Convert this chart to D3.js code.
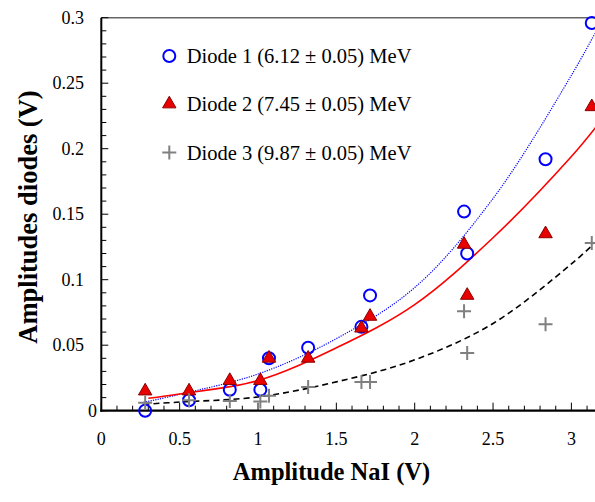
<!DOCTYPE html>
<html><head><meta charset="utf-8">
<script src="https://cdn.jsdelivr.net/npm/d3@7"></script>
<style>
html,body{margin:0;padding:0;background:#fff;}
svg{display:block;font-family:"Liberation Serif","Times New Roman",serif;}
</style></head>
<body><svg id="c" width="595" height="502"></svg>
<script>
// ---- data ----
const naiAmplitude = [0.28, 0.56, 0.82, 1.015, 1.07, 1.32, 1.66, 1.715, 2.315, 2.335, 2.835, 3.13];
const diode1 = [0.000, 0.008, 0.016, 0.016, 0.040, 0.048, 0.064, 0.088, 0.152, 0.120, 0.192, 0.296];
const diode2 = [0.015, 0.015, 0.023, 0.023, 0.040, 0.040, 0.063, 0.072, 0.127, 0.088, 0.135, 0.232];
const diode3 = [0.006, 0.008, 0.0075, 0.007, 0.0115, 0.018, 0.022, 0.022, 0.076, 0.044, 0.066, 0.128];
// trend curves
const fitX1 = [0.27, 0.5, 1.0, 1.5, 2.0, 2.5, 3.0, 3.15];
const fit1 = [0.0064, 0.0125, 0.028, 0.055, 0.094, 0.162, 0.256, 0.288];
const fitX2 = [0.3, 0.5, 1.0, 1.5, 2.0, 2.5, 3.0, 3.16];
const fit2 = [0.0095, 0.0128, 0.023, 0.048, 0.081, 0.132, 0.194, 0.217];
const fitX3 = [0.27, 0.5, 1.0, 1.5, 2.0, 2.5, 3.0, 3.14];
const fit3 = [0.0049, 0.0066, 0.0105, 0.022, 0.0388, 0.0666, 0.112, 0.127];
const legendLabels = ["Diode 1 (6.12 \u00b1 0.05) MeV", "Diode 2 (7.45 \u00b1 0.05) MeV", "Diode 3 (9.87 \u00b1 0.05) MeV"];
const xTickLabels = ["0", "0.5", "1", "1.5", "2", "2.5", "3"];
const yTickLabels = ["0", "0.05", "0.1", "0.15", "0.2", "0.25", "0.3"];
const xTitle = "Amplitude NaI (V)";
const yTitle = "Amplitudes diodes (V)";

// ---- layout ----
const svg = d3.select("#c");
const x = d3.scaleLinear().domain([0, 3.5]).range([101.3, 101.3 + 156.7 * 3.5]);
const y = d3.scaleLinear().domain([0, 0.3]).range([410.7, 17.7]);
const pL = x(0), pB = y(0), pT = y(0.3), pR = 595;

svg.append("rect").attr("width", 595).attr("height", 502).attr("fill", "#fff");

// top border
svg.append("line").attr("x1", pL).attr("x2", pR).attr("y1", pT).attr("y2", pT)
  .attr("stroke", "#666").attr("stroke-width", 1.5);

// y ticks (inward)
const yMinor = d3.range(0, 0.3001, 0.01);
svg.append("g").selectAll("line").data(yMinor).join("line")
  .attr("x1", pL).attr("x2", (d, i) => pL + (i % 5 === 0 ? 7 : 5))
  .attr("y1", d => y(d)).attr("y2", d => y(d))
  .attr("stroke", "#000").attr("stroke-width", 1);
// x ticks (inward)
const xMinor = d3.range(0, 3.5001, 0.1);
svg.append("g").selectAll("line").data(xMinor).join("line")
  .attr("x1", d => x(d)).attr("x2", d => x(d))
  .attr("y1", pB).attr("y2", (d, i) => pB - (i % 5 === 0 ? 8 : 5))
  .attr("stroke", "#000").attr("stroke-width", 1);

// axes lines
svg.append("line").attr("x1", pL).attr("x2", pL).attr("y1", pT).attr("y2", pB + 1)
  .attr("stroke", "#000").attr("stroke-width", 2);
svg.append("line").attr("x1", pL - 1).attr("x2", pR).attr("y1", pB).attr("y2", pB)
  .attr("stroke", "#000").attr("stroke-width", 2.2);

// tick labels
svg.append("g").selectAll("text").data(yTickLabels).join("text")
  .attr("x", d => d === "0" ? 97 : 84)
  .attr("y", d => y(+d) + 6)
  .attr("text-anchor", "end").attr("font-size", 18).attr("fill", "#000")
  .text(d => d);
svg.append("g").selectAll("text").data(xTickLabels).join("text")
  .attr("x", d => x(+d)).attr("y", 445)
  .attr("text-anchor", "middle").attr("font-size", 18).attr("fill", "#000")
  .text(d => d);

// titles
svg.append("text").attr("x", 331.5).attr("y", 479.5).attr("text-anchor", "middle")
  .attr("font-size", 24.5).attr("font-weight", "bold").text(xTitle);
svg.append("text").attr("transform", "translate(37,217) rotate(-90)").attr("text-anchor", "middle")
  .attr("font-size", 26.5).attr("font-weight", "bold").text(yTitle);

// clip
svg.append("clipPath").attr("id", "plot").append("rect")
  .attr("x", pL).attr("y", pT).attr("width", pR - pL).attr("height", pB - pT);

// fit curves
const line = (xs) => d3.line().x((d, i) => x(xs[i])).y(d => y(d)).curve(d3.curveCatmullRom.alpha(0.5));
const curves = svg.append("g").attr("clip-path", "url(#plot)");
curves.append("path").attr("d", line(fitX1)(fit1)).attr("fill", "none")
  .attr("stroke", "#0000ff").attr("stroke-width", 1.2).attr("stroke-dasharray", "1.2,1.2");
curves.append("path").attr("d", line(fitX2)(fit2)).attr("fill", "none")
  .attr("stroke", "#ff0000").attr("stroke-width", 1.6);
curves.append("path").attr("d", line(fitX3)(fit3)).attr("fill", "none")
  .attr("stroke", "#000").attr("stroke-width", 1.6).attr("stroke-dasharray", "6,4");

// markers
const tri = d3.symbol().type(d3.symbolTriangle).size(78);
function circleMark(g) {
  g.append("circle").attr("r", 6).attr("fill", "none").attr("stroke", "#0000ff").attr("stroke-width", 2);
}
function triMark(g) {
  g.append("path").attr("d", tri()).attr("fill", "#e80000").attr("stroke", "#8b0000").attr("stroke-width", 1);
}
function plusMark(g) {
  g.append("path").attr("d", "M-7,0H7M0,-7V7").attr("stroke", "#808080").attr("stroke-width", 2).attr("fill", "none");
}
const marks = svg.append("g");
marks.append("g").selectAll("g").data(diode1).join("g")
  .attr("transform", (d, i) => `translate(${x(naiAmplitude[i])},${y(d)})`).each(function () { circleMark(d3.select(this)); });
marks.append("g").selectAll("g").data(diode2).join("g")
  .attr("transform", (d, i) => `translate(${x(naiAmplitude[i])},${y(d)})`).each(function () { triMark(d3.select(this)); });
marks.append("g").selectAll("g").data(diode3).join("g")
  .attr("transform", (d, i) => `translate(${x(naiAmplitude[i])},${y(d)})`).each(function () { plusMark(d3.select(this)); });

// legend
const legY = [56, 104, 152.5];
const markFns = [circleMark, triMark, plusMark];
legendLabels.forEach((lab, i) => {
  const g = svg.append("g").attr("transform", `translate(169.3,${legY[i]})`);
  markFns[i](g);
  svg.append("text").attr("x", 186.7).attr("y", legY[i] + 7).attr("font-size", 20.5).attr("fill", "#000").text(lab);
});
</script>
</body></html>
